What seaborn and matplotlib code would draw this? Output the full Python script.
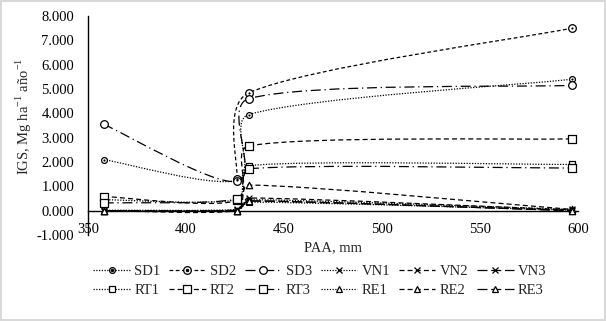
import numpy as np
import pandas as pd
import seaborn as sns
import matplotlib.pyplot as plt
from matplotlib.path import Path
from matplotlib.patches import PathPatch
from matplotlib.lines import Line2D

# PAA (mm) of the four sites
paa = [358, 426, 432, 597]

# IGS, Mg ha-1 año-1
sd1 = [2.10, 1.25, 3.95, 5.40]
sd2 = [np.nan, 1.30, 4.84, 7.50]
sd3 = [3.55, 1.20, 4.60, 5.15]
vn1 = [0.02, 0.05, 0.45, 0.05]
vn2 = [0.00, 0.03, 0.52, 0.03]
vn3 = [0.00, 0.02, 0.40, 0.00]
rt1 = [0.45, 0.45, 1.85, 1.90]
rt2 = [0.58, 0.42, 2.66, 2.95]
rt3 = [0.32, 0.48, 1.72, 1.75]
re1 = [0.00, 0.00, 0.35, 0.02]
re2 = [0.00, 0.00, 1.05, 0.05]
re3 = [0.00, 0.00, 0.40, 0.00]

names = ['SD1', 'SD2', 'SD3', 'VN1', 'VN2', 'VN3',
         'RT1', 'RT2', 'RT3', 'RE1', 'RE2', 'RE3']
values = [sd1, sd2, sd3, vn1, vn2, vn3, rt1, rt2, rt3, re1, re2, re3]

df = pd.DataFrame({'PAA': paa * len(names),
                   'serie': np.repeat(names, len(paa)),
                   'IGS': np.concatenate(values)})

dot = (0, (1, 1.2))
short = (0, (3, 2))
dash = (0, (4, 2.5))
ldd = (0, (8, 3, 1, 3))
ldash = (0, (8, 3))
styles = {
    'SD1': (dot, 'o', 4.2, True), 'SD2': (short, 'o', 5.5, True), 'SD3': (ldd, 'o', 5.5, False),
    'VN1': (dot, 'x', 4.2, False), 'VN2': (dash, 'x', 4.2, False), 'VN3': (ldash, 'x', 4.2, False),
    'RT1': (dot, 's', 4.8, False), 'RT2': (dash, 's', 5.3, False), 'RT3': (ldd, 's', 5.3, False),
    'RE1': (dot, '^', 4.2, False), 'RE2': (dash, '^', 4.6, False), 'RE3': (ldash, '^', 4.6, False),
}

sns.set_theme(style='white')
plt.rcParams['font.family'] = ['Liberation Serif', 'DejaVu Serif']
plt.rcParams['mathtext.fontset'] = 'custom'
plt.rcParams['mathtext.rm'] = 'Liberation Serif'
plt.rcParams['font.size'] = 10.5

fig = plt.figure(figsize=(6.06, 3.21), dpi=100)
ax = fig.add_axes([88 / 606, 1 - 235 / 321, 490 / 606, 219 / 321])
ax.set_xlim(350, 600)
ax.set_ylim(-1, 8)


def smooth_path(xs, ys):
    # Excel-like smoothed line: bezier segments built in screen space
    pts = ax.transData.transform(np.column_stack([xs, ys]))
    n = len(pts)
    verts = [pts[0]]
    codes = [Path.MOVETO]
    for i in range(n - 1):
        p0 = pts[i - 1] if i > 0 else pts[i]
        p1, p2 = pts[i], pts[i + 1]
        p3 = pts[i + 2] if i + 2 < n else pts[i + 1]
        seg = np.hypot(*(p2 - p1))
        d1 = (p2 - p0) / 6
        d2 = (p3 - p1) / 6
        lim = seg / 3
        if np.hypot(*d1) > lim:
            d1 = d1 * lim / np.hypot(*d1)
        if np.hypot(*d2) > lim:
            d2 = d2 * lim / np.hypot(*d2)
        verts += [p1 + d1, p2 - d2, p2]
        codes += [Path.CURVE4] * 3
    verts = ax.transData.inverted().transform(np.array(verts))
    return Path(verts, codes)


handles = {}
for name in names:
    ls, m, ms, centre = styles[name]
    sub = df[df['serie'] == name].dropna()
    ax.add_patch(PathPatch(smooth_path(sub['PAA'].values, sub['IGS'].values),
                           fill=False, edgecolor='black', lw=0.9, linestyle=ls, zorder=2))
    if m == 'x':
        sns.scatterplot(data=sub, x='PAA', y='IGS', marker='x', s=ms ** 2,
                        color='black', linewidth=0.9, ax=ax, zorder=3, legend=False)
    else:
        sns.scatterplot(data=sub, x='PAA', y='IGS', marker=m, s=ms ** 2,
                        color='white', edgecolor='black', linewidth=0.9, ax=ax,
                        zorder=3, legend=False)
    h = Line2D([], [], color='black', lw=0.9, linestyle=ls, marker=m, markersize=ms,
               markerfacecolor='white', markeredgecolor='black', markeredgewidth=0.9)
    if centre:
        sns.scatterplot(data=sub, x='PAA', y='IGS', marker='o', s=2.5,
                        color='black', linewidth=0, ax=ax, zorder=4, legend=False)
        h = (h, Line2D([], [], ls='none', marker='o', markersize=1.5, color='black'))
    handles[name] = h

ax.set_xticks(np.arange(350, 601, 50))
ax.set_yticks(np.arange(-1, 9, 1))
ax.yaxis.set_major_formatter(plt.FuncFormatter(lambda v, p: f'{v:.3f}'))
ax.tick_params(axis='both', length=0, labelsize=10.5, colors='black')
ax.tick_params(axis='x', pad=9)
ax.tick_params(axis='y', pad=10)

sns.despine(ax=ax)
ax.spines['bottom'].set_position(('data', 0))
ax.spines['bottom'].set_color('black')
ax.spines['left'].set_color('black')
ax.spines['bottom'].set_linewidth(1)
ax.spines['left'].set_linewidth(1)

ax.set_xlabel('PAA, mm', fontsize=10.5)
ax.set_ylabel(r'IGS, Mg ha$^{\mathrm{-1}}$ año$^{\mathrm{-1}}$', fontsize=10.5)
ax.xaxis.set_label_coords(0.5, -0.03)
ax.yaxis.set_label_coords(-0.11, 0.54)

# legend is filled column by column, so interleave the two rows
order = []
for a, b in zip(names[:6], names[6:]):
    order += [a, b]
fig.legend([handles[k] for k in order], order, ncol=6, loc='center',
           bbox_to_anchor=(320 / 606, 1 - 281 / 321), frameon=False,
           fontsize=10.5, handlelength=2.5, handletextpad=0.3,
           columnspacing=0.6, labelspacing=0.45)

fig.patch.set_edgecolor('#d9d9d9')
fig.patch.set_linewidth(1.5)
fig.savefig('out.png', dpi=100, edgecolor=fig.get_edgecolor())
